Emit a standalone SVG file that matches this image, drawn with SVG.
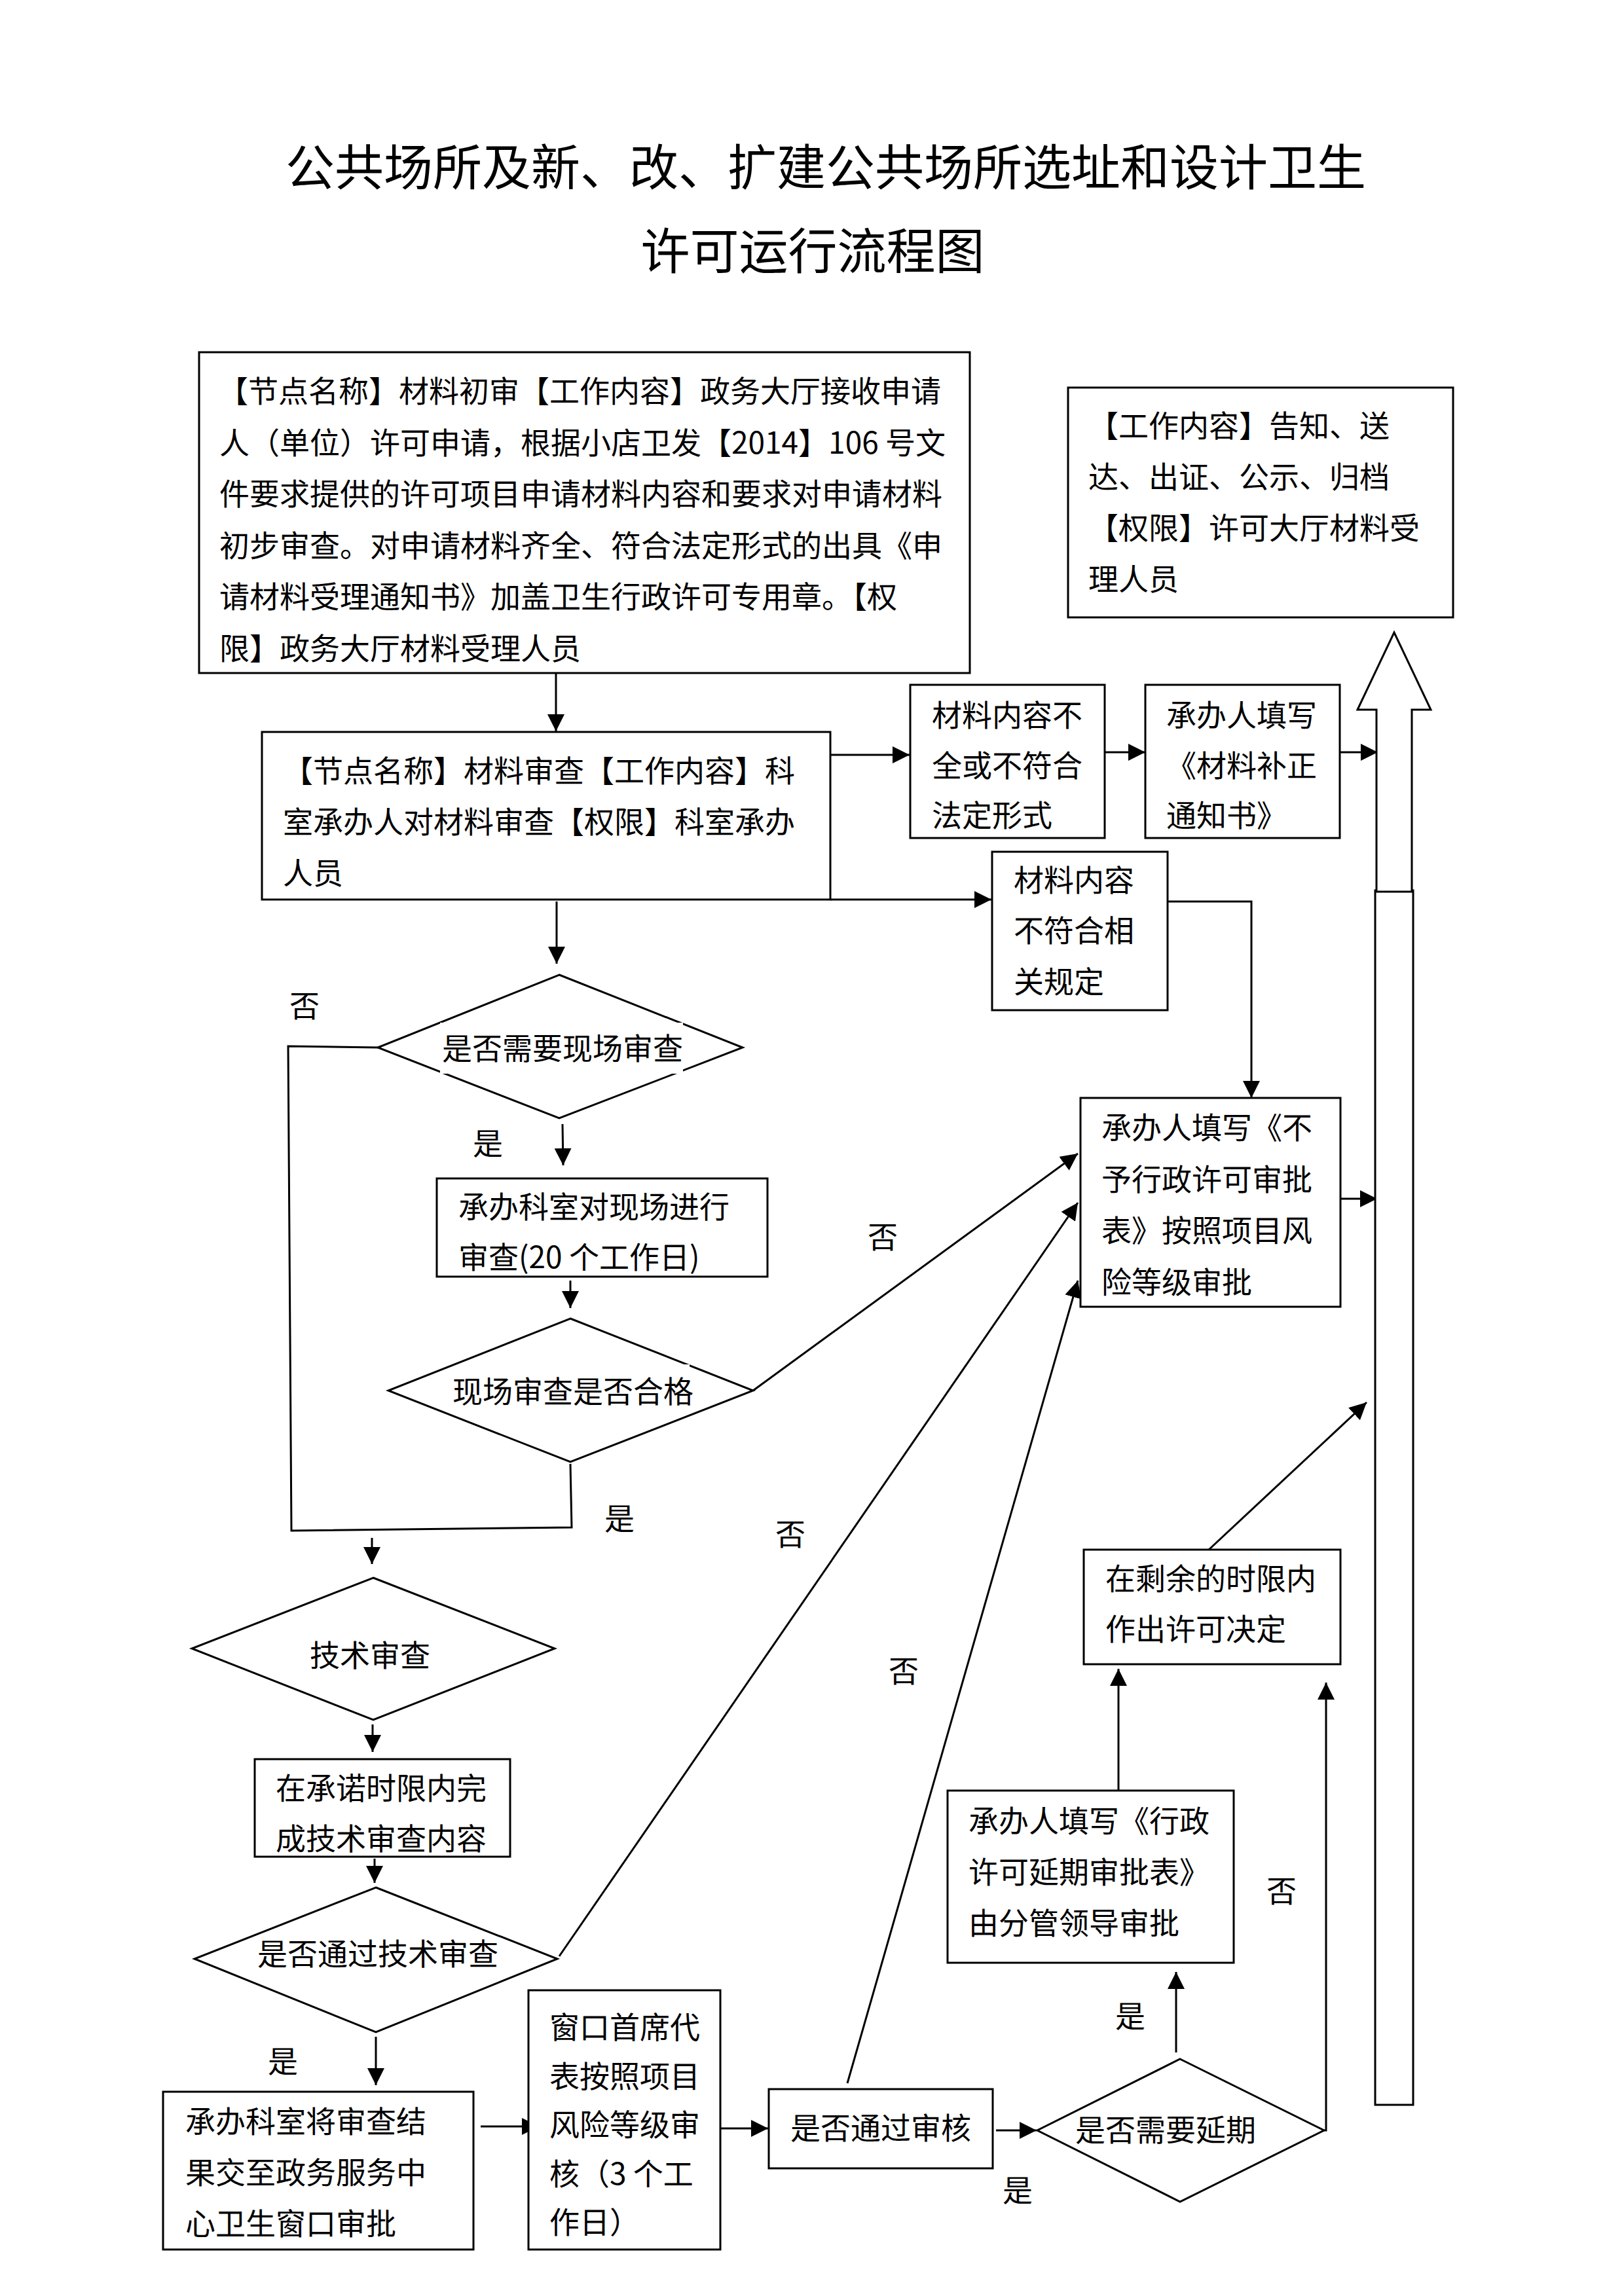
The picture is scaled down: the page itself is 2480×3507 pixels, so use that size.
<svg xmlns="http://www.w3.org/2000/svg" width="2480" height="3507" viewBox="0 0 2480 3507">
<style>
text{font-family:"Noto Sans CJK SC","Noto Sans",sans-serif;fill:#000;}
.t{font-size:46px;}
.c{font-size:46px;text-anchor:middle;}
.title{font-size:75px;text-anchor:middle;}
.box{fill:#fff;stroke:#000;stroke-width:3;}
.ln{fill:none;stroke:#000;stroke-width:3;}
.arw{fill:none;stroke:#000;stroke-width:3;marker-end:url(#ah);}
.bg{fill:#fff;stroke:none;}
</style>
<defs>
<marker id="ah" markerUnits="userSpaceOnUse" markerWidth="26" markerHeight="26" viewBox="0 0 24 24" refX="24" refY="12" orient="auto">
<path d="M0,0 L24,12 L0,24 Z" fill="#000"/>
</marker>
</defs>
<rect width="2480" height="3507" fill="#fff"/>

<g id="title">
<text class="title" x="1261" y="283">公共场所及新、改、扩建公共场所选址和设计卫生</text>
<text class="title" x="1241" y="411">许可运行流程图</text>
</g>

<g id="connectors">
<line class="arw" x1="849" y1="1028" x2="849" y2="1117"/>
<line class="arw" x1="850" y1="1377" x2="850" y2="1472"/>
<line class="arw" x1="859" y1="1717" x2="860" y2="1780"/>
<line class="arw" x1="871" y1="1956" x2="871" y2="1998"/>
<polyline class="ln" points="577,1600 440,1598 445,2338 873,2333 871,2236"/>
<line class="arw" x1="568" y1="2349" x2="568" y2="2389"/>
<line class="arw" x1="569" y1="2634" x2="569" y2="2676"/>
<line class="arw" x1="572" y1="2839" x2="572" y2="2876"/>
<line class="arw" x1="574" y1="3111" x2="574" y2="3185"/>
<line class="arw" x1="734" y1="3248" x2="823" y2="3248"/>
<line class="arw" x1="1083" y1="3251" x2="1173" y2="3251"/>
<line class="arw" x1="1521" y1="3254" x2="1583" y2="3254"/>
<line class="arw" x1="1796" y1="3135" x2="1796" y2="3012"/>
<line class="arw" x1="1708" y1="2740" x2="1708" y2="2549"/>
<polyline class="arw" points="2022,3254 2025,3254 2025,2570"/>
<line class="arw" x1="1846" y1="2367" x2="2087" y2="2142"/>
<line class="arw" x1="1150" y1="2124" x2="1646" y2="1762"/>
<line class="arw" x1="854" y1="2988" x2="1646" y2="1837"/>
<line class="arw" x1="1294" y1="3182" x2="1646" y2="1956"/>
<line class="arw" x1="1268" y1="1153" x2="1389" y2="1153"/>
<line class="arw" x1="1687" y1="1149" x2="1749" y2="1149"/>
<line class="arw" x1="2046" y1="1149" x2="2104" y2="1149"/>
<line class="arw" x1="1268" y1="1374" x2="1514" y2="1374"/>
<polyline class="arw" points="1783,1377 1911,1377 1911,1677"/>
<line class="arw" x1="2047" y1="1831" x2="2103" y2="1831"/>
</g>

<g id="bigArrow">
<rect class="box" x="2100" y="1360" width="58" height="1855"/>
<polygon class="box" points="2102,1362 2102,1084 2073,1084 2129,966 2185,1084 2156,1084 2156,1362"/>
</g>

<g id="n1">
<rect class="box" x="304" y="538" width="1177" height="490"/>
<text class="t" x="333" y="614">【节点名称】材料初审【工作内容】政务大厅接收申请</text>
<text class="t" x="335" y="693">人（单位）许可申请，根据小店卫发【2014】106 号文</text>
<text class="t" x="335" y="771">件要求提供的许可项目申请材料内容和要求对申请材料</text>
<text class="t" x="335" y="850">初步审查。对申请材料齐全、符合法定形式的出具《申</text>
<text class="t" x="335" y="928">请材料受理通知书》加盖卫生行政许可专用章。【权</text>
<text class="t" x="335" y="1007">限】政务大厅材料受理人员</text>
</g>

<g id="n2">
<rect class="box" x="400" y="1118" width="868" height="256"/>
<text class="t" x="432" y="1194">【节点名称】材料审查【工作内容】科</text>
<text class="t" x="432" y="1272">室承办人对材料审查【权限】科室承办</text>
<text class="t" x="432" y="1350">人员</text>
</g>

<g id="n3">
<rect class="box" x="1390" y="1046" width="297" height="234"/>
<text class="t" x="1423" y="1109">材料内容不</text>
<text class="t" x="1423" y="1186">全或不符合</text>
<text class="t" x="1423" y="1262">法定形式</text>
</g>

<g id="n4">
<rect class="box" x="1749" y="1046" width="297" height="234"/>
<text class="t" x="1781" y="1109">承办人填写</text>
<text class="t" x="1781" y="1186">《材料补正</text>
<text class="t" x="1781" y="1262">通知书》</text>
</g>

<g id="n5">
<rect class="box" x="1631" y="592" width="588" height="351"/>
<text class="t" x="1662" y="667">【工作内容】告知、送</text>
<text class="t" x="1662" y="745">达、出证、公示、归档</text>
<text class="t" x="1662" y="823">【权限】许可大厅材料受</text>
<text class="t" x="1662" y="901">理人员</text>
</g>

<g id="n6">
<rect class="box" x="1515" y="1301" width="268" height="242"/>
<text class="t" x="1548" y="1361">材料内容</text>
<text class="t" x="1548" y="1438">不符合相</text>
<text class="t" x="1548" y="1516">关规定</text>
</g>

<g id="n7">
<rect class="box" x="1650" y="1677" width="397" height="319"/>
<text class="t" x="1682" y="1739">承办人填写《不</text>
<text class="t" x="1682" y="1818">予行政许可审批</text>
<text class="t" x="1682" y="1896">表》按照项目风</text>
<text class="t" x="1682" y="1975">险等级审批</text>
</g>

<g id="d1">
<polygon class="box" points="854,1489 1134,1600 854,1708 577,1600"/>
<rect class="bg" x="672" y="1562" width="371" height="78"/>
<text class="c" x="859" y="1618">是否需要现场审查</text>
</g>

<g id="n8">
<rect class="box" x="667" y="1800" width="505" height="150"/>
<text class="t" x="700" y="1860">承办科室对现场进行</text>
<text class="t" x="700" y="1937">审查(20 个工作日)</text>
</g>

<g id="d2">
<polygon class="box" points="871,2014 1150,2124 871,2233 593,2124"/>
<rect class="bg" x="699" y="2084" width="354" height="76"/>
<text class="c" x="875" y="2142">现场审查是否合格</text>
</g>

<g id="d3">
<polygon class="box" points="570,2410 847,2518 570,2627 293,2518"/>
<text class="c" x="565" y="2545">技术审查</text>
</g>

<g id="n9">
<rect class="box" x="389" y="2687" width="390" height="149"/>
<text class="t" x="421" y="2748">在承诺时限内完</text>
<text class="t" x="421" y="2825">成技术审查内容</text>
</g>

<g id="d4">
<polygon class="box" points="574,2883 851,2992 574,3104 297,2992"/>
<text class="c" x="577" y="3001">是否通过技术审查</text>
</g>

<g id="n10">
<rect class="box" x="249" y="3195" width="474" height="241"/>
<text class="t" x="283" y="3257">承办科室将审查结</text>
<text class="t" x="283" y="3335">果交至政务服务中</text>
<text class="t" x="283" y="3413">心卫生窗口审批</text>
</g>

<g id="n11">
<rect class="box" x="807" y="3040" width="293" height="396"/>
<text class="t" x="839" y="3113">窗口首席代</text>
<text class="t" x="839" y="3188">表按照项目</text>
<text class="t" x="839" y="3262">风险等级审</text>
<text class="t" x="839" y="3337">核（3 个工</text>
<text class="t" x="839" y="3411">作日）</text>
</g>

<g id="n12">
<rect class="box" x="1174" y="3191" width="342" height="121"/>
<text class="t" x="1207" y="3267">是否通过审核</text>
</g>

<g id="d5">
<polygon class="box" points="1802,3145 2022,3254 1802,3363 1584,3254"/>
<text class="c" x="1780" y="3270">是否需要延期</text>
</g>

<g id="n13">
<rect class="box" x="1447" y="2735" width="437" height="263"/>
<text class="t" x="1479" y="2798">承办人填写《行政</text>
<text class="t" x="1479" y="2876">许可延期审批表》</text>
<text class="t" x="1479" y="2954">由分管领导审批</text>
</g>

<g id="n14">
<rect class="box" x="1655" y="2367" width="392" height="175"/>
<text class="t" x="1688" y="2428">在剩余的时限内</text>
<text class="t" x="1688" y="2505">作出许可决定</text>
</g>

<g id="labels">
<text class="c" x="465" y="1553">否</text>
<text class="c" x="745" y="1763">是</text>
<text class="c" x="1348" y="1906">否</text>
<text class="c" x="946" y="2336">是</text>
<text class="c" x="1207" y="2360">否</text>
<text class="c" x="1380" y="2569">否</text>
<text class="c" x="1957" y="2905">否</text>
<text class="c" x="1726" y="3096">是</text>
<text class="c" x="1554" y="3362">是</text>
<text class="c" x="432" y="3165">是</text>
</g>
</svg>
